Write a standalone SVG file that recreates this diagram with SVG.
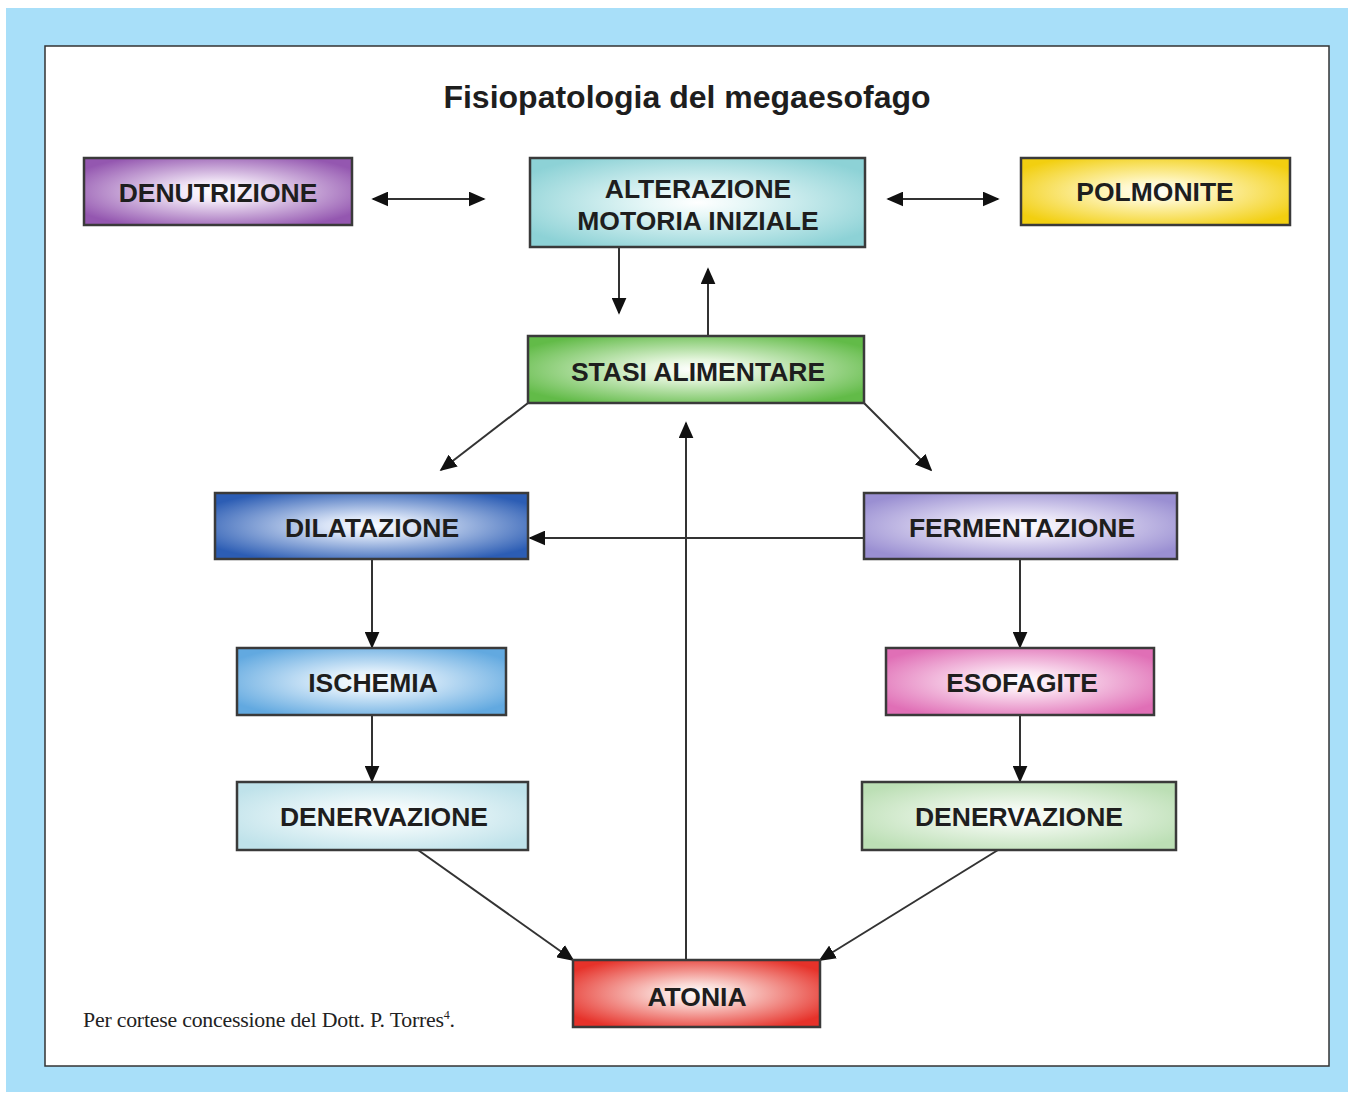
<svg xmlns="http://www.w3.org/2000/svg" width="1354" height="1099" viewBox="0 0 1354 1099">
<defs>
<style>
.box{stroke:#3a3a3a;stroke-width:2.5}
.lbl{font-family:"Liberation Sans",Arial,sans-serif;font-weight:bold;font-size:26.5px;fill:#1e1e1e;text-anchor:middle}
.ln{stroke:#333;stroke-width:2;fill:none}
</style>
<marker id="ah" viewBox="0 0 10 10" refX="9" refY="5" markerWidth="17" markerHeight="15" markerUnits="userSpaceOnUse" orient="auto-start-reverse" preserveAspectRatio="none">
<path d="M0,0 L10,5 L0,10 Z" fill="#111"/>
</marker>
<radialGradient id="gPurple" cx="0.5" cy="0.5" r="0.6"><stop offset="0" stop-color="#fff"/><stop offset="0.25" stop-color="#f1e6f6"/><stop offset="1" stop-color="#9457b0"/></radialGradient>
<radialGradient id="gTeal" cx="0.5" cy="0.5" r="0.6"><stop offset="0" stop-color="#fff"/><stop offset="0.25" stop-color="#e6f7f7"/><stop offset="1" stop-color="#8dd2d6"/></radialGradient>
<radialGradient id="gYellow" cx="0.5" cy="0.5" r="0.6"><stop offset="0" stop-color="#fff"/><stop offset="0.25" stop-color="#fff7c8"/><stop offset="1" stop-color="#f2cf10"/></radialGradient>
<radialGradient id="gGreen" cx="0.5" cy="0.5" r="0.6"><stop offset="0" stop-color="#fff"/><stop offset="0.25" stop-color="#e4f5dc"/><stop offset="1" stop-color="#62bb48"/></radialGradient>
<radialGradient id="gBlue" cx="0.5" cy="0.5" r="0.6"><stop offset="0" stop-color="#fff"/><stop offset="0.25" stop-color="#d8e3f6"/><stop offset="1" stop-color="#2c5db4"/></radialGradient>
<radialGradient id="gLav" cx="0.5" cy="0.5" r="0.6"><stop offset="0" stop-color="#fff"/><stop offset="0.25" stop-color="#ece8f8"/><stop offset="1" stop-color="#9a8fd2"/></radialGradient>
<radialGradient id="gSky" cx="0.5" cy="0.5" r="0.6"><stop offset="0" stop-color="#fff"/><stop offset="0.25" stop-color="#e2f0fb"/><stop offset="1" stop-color="#62a9e0"/></radialGradient>
<radialGradient id="gPink" cx="0.5" cy="0.5" r="0.6"><stop offset="0" stop-color="#fff"/><stop offset="0.25" stop-color="#fbe4f2"/><stop offset="1" stop-color="#e06fb6"/></radialGradient>
<radialGradient id="gCyan" cx="0.5" cy="0.5" r="0.6"><stop offset="0" stop-color="#fff"/><stop offset="0.25" stop-color="#f2fafb"/><stop offset="1" stop-color="#bfe2ea"/></radialGradient>
<radialGradient id="gMint" cx="0.5" cy="0.5" r="0.6"><stop offset="0" stop-color="#fff"/><stop offset="0.25" stop-color="#f0f8ee"/><stop offset="1" stop-color="#bcdfb5"/></radialGradient>
<radialGradient id="gRed" cx="0.5" cy="0.5" r="0.6"><stop offset="0" stop-color="#fff"/><stop offset="0.25" stop-color="#fad8d4"/><stop offset="1" stop-color="#e6322a"/></radialGradient>
</defs>
<rect x="0" y="0" width="1354" height="1099" fill="#fff"/>
<rect x="6" y="8" width="1342" height="1084" fill="#a8dff9"/>
<rect x="45" y="46" width="1284" height="1020" fill="#fff" stroke="#333" stroke-width="1.5"/>
<text x="687" y="108" font-family="'Liberation Sans',Arial,sans-serif" font-weight="bold" font-size="32" fill="#1e1e1e" text-anchor="middle">Fisiopatologia del megaesofago</text>

<g id="connectors">
<line class="ln" x1="373" y1="199" x2="484" y2="199" marker-start="url(#ah)" marker-end="url(#ah)"/>
<line class="ln" x1="888" y1="199" x2="998" y2="199" marker-start="url(#ah)" marker-end="url(#ah)"/>
<line class="ln" x1="619" y1="248" x2="619" y2="313" marker-end="url(#ah)"/>
<line class="ln" x1="708" y1="336" x2="708" y2="269" marker-end="url(#ah)"/>
<line class="ln" x1="528" y1="403" x2="441" y2="470" marker-end="url(#ah)"/>
<line class="ln" x1="864" y1="403" x2="931" y2="470" marker-end="url(#ah)"/>
<line class="ln" x1="686" y1="960" x2="686" y2="423" marker-end="url(#ah)"/>
<line class="ln" x1="864" y1="538" x2="530" y2="538" marker-end="url(#ah)"/>
<line class="ln" x1="372" y1="559" x2="372" y2="647" marker-end="url(#ah)"/>
<line class="ln" x1="372" y1="715" x2="372" y2="781" marker-end="url(#ah)"/>
<line class="ln" x1="1020" y1="559" x2="1020" y2="647" marker-end="url(#ah)"/>
<line class="ln" x1="1020" y1="715" x2="1020" y2="781" marker-end="url(#ah)"/>
<line class="ln" x1="418" y1="850" x2="573" y2="960" marker-end="url(#ah)"/>
<line class="ln" x1="998" y1="850" x2="820" y2="960" marker-end="url(#ah)"/>
</g>

<g id="n-denutrizione"><rect class="box" x="84" y="158" width="268" height="67" fill="url(#gPurple)"/><text class="lbl" x="218" y="202">DENUTRIZIONE</text></g>
<g id="n-alterazione"><rect class="box" x="530" y="158" width="335" height="89" fill="url(#gTeal)"/><text class="lbl" x="698" y="198">ALTERAZIONE</text><text class="lbl" x="698" y="230">MOTORIA INIZIALE</text></g>
<g id="n-polmonite"><rect class="box" x="1021" y="158" width="269" height="67" fill="url(#gYellow)"/><text class="lbl" x="1155" y="201">POLMONITE</text></g>
<g id="n-stasi"><rect class="box" x="528" y="336" width="336" height="67" fill="url(#gGreen)"/><text class="lbl" x="698" y="381">STASI ALIMENTARE</text></g>
<g id="n-dilatazione"><rect class="box" x="215" y="493" width="313" height="66" fill="url(#gBlue)"/><text class="lbl" x="372" y="537">DILATAZIONE</text></g>
<g id="n-fermentazione"><rect class="box" x="864" y="493" width="313" height="66" fill="url(#gLav)"/><text class="lbl" x="1022" y="537">FERMENTAZIONE</text></g>
<g id="n-ischemia"><rect class="box" x="237" y="648" width="269" height="67" fill="url(#gSky)"/><text class="lbl" x="373" y="692">ISCHEMIA</text></g>
<g id="n-esofagite"><rect class="box" x="886" y="648" width="268" height="67" fill="url(#gPink)"/><text class="lbl" x="1022" y="692">ESOFAGITE</text></g>
<g id="n-denervazione-l"><rect class="box" x="237" y="782" width="291" height="68" fill="url(#gCyan)"/><text class="lbl" x="384" y="826">DENERVAZIONE</text></g>
<g id="n-denervazione-r"><rect class="box" x="862" y="782" width="314" height="68" fill="url(#gMint)"/><text class="lbl" x="1019" y="826">DENERVAZIONE</text></g>
<g id="n-atonia"><rect class="box" x="573" y="960" width="247" height="67" fill="url(#gRed)"/><text class="lbl" x="697" y="1006">ATONIA</text></g>

<text x="83" y="1027" font-family="'Liberation Serif','Times New Roman',serif" font-size="21.8" fill="#222" textLength="372">Per cortese concessione del Dott. P. Torres<tspan font-size="12" dy="-8">4</tspan><tspan dy="8">.</tspan></text>
</svg>
